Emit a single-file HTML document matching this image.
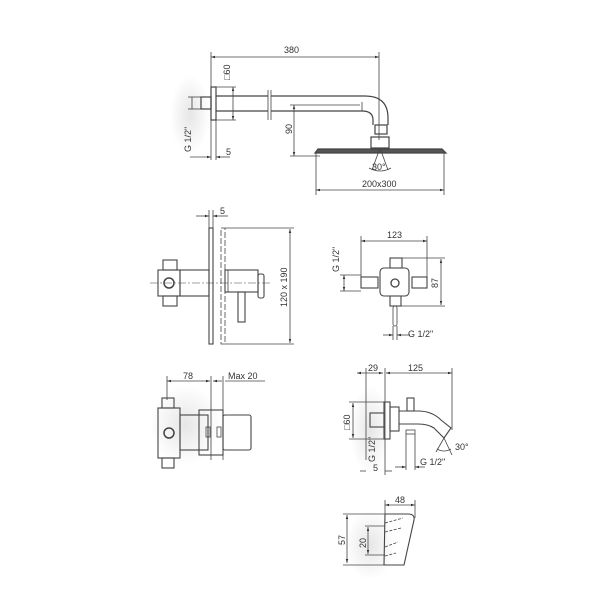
<!DOCTYPE html>
<html><head><style>
html,body{margin:0;padding:0;background:#fff;}
svg{display:block;}
text{font-family:"Liberation Sans",sans-serif;font-size:9px;fill:#333;}
</style></head><body>
<svg width="600" height="600" viewBox="0 0 600 600" xmlns="http://www.w3.org/2000/svg">
<defs>
<marker id="a" viewBox="0 0 10 10" refX="10" refY="5" markerWidth="5" markerHeight="5" orient="auto-start-reverse"><path d="M0,2 L10,5 L0,8z" fill="#333"/></marker>
<radialGradient id="sh" cx="0.5" cy="0.5" r="0.5"><stop offset="0" stop-color="#e6e6e6"/><stop offset="1" stop-color="#fff"/></radialGradient>
</defs>
<g fill="none" stroke="#444" stroke-width="0.8">
<rect x="170" y="75" width="40" height="80" fill="url(#sh)" stroke="none"/>
<rect x="150" y="385" width="70" height="80" fill="url(#sh)" stroke="none"/>
<rect x="350" y="385" width="40" height="90" fill="url(#sh)" stroke="none"/>
<rect x="345" y="510" width="50" height="70" fill="url(#sh)" stroke="none"/>

<!-- TOP -->
<line x1="211" y1="57" x2="379" y2="57" marker-start="url(#a)" marker-end="url(#a)"/>
<line x1="211" y1="52" x2="211" y2="160"/>
<line x1="379" y1="52" x2="379" y2="140"/>
<rect x="211" y="87" width="5" height="33" stroke-width="1.2"/>
<rect x="201" y="97" width="10" height="12" stroke-width="1.2"/>
<line x1="216" y1="96" x2="268" y2="96" stroke-width="1.2"/>
<line x1="216" y1="111" x2="268" y2="111" stroke-width="1.2"/>
<line x1="268" y1="90" x2="268" y2="120"/><line x1="271" y1="90" x2="271" y2="120"/>
<path d="M271,96 L365,96 Q388,96 388,118 L388,125" stroke-width="1.2"/>
<path d="M271,111 L362,111 Q373,111 373,120 L373,125" stroke-width="1.2"/>
<line x1="362" y1="102" x2="362" y2="111"/>
<rect x="375" y="125" width="12" height="9" stroke-width="1.2"/>
<rect x="371" y="137" width="18" height="11" stroke-width="1.2"/>
<path d="M315,153 L318,149 L442,149 L446,153 Z" stroke-width="1.2" fill="#555"/>
<line x1="233" y1="87" x2="233" y2="120" marker-start="url(#a)" marker-end="url(#a)"/>
<line x1="216" y1="87" x2="236" y2="87"/><line x1="216" y1="120" x2="236" y2="120"/>
<line x1="192" y1="97" x2="192" y2="109"/><line x1="188" y1="97" x2="201" y2="97"/><line x1="188" y1="109" x2="201" y2="109"/>
<line x1="190" y1="157" x2="211" y2="157" marker-end="url(#a)"/><line x1="230" y1="157" x2="216" y2="157" marker-end="url(#a)"/>
<line x1="216" y1="120" x2="216" y2="160"/>
<line x1="294" y1="105" x2="294" y2="156" marker-start="url(#a)" marker-end="url(#a)"/>
<line x1="290" y1="105" x2="360" y2="105"/><line x1="290" y1="156" x2="320" y2="156"/>
<line x1="380" y1="148" x2="372" y2="170"/><line x1="380" y1="148" x2="388" y2="170"/>
<path d="M369,168 Q380,174 391,168"/>
<line x1="316" y1="190" x2="444" y2="190" marker-start="url(#a)" marker-end="url(#a)"/>
<line x1="316" y1="153" x2="316" y2="195"/><line x1="444" y1="153" x2="444" y2="195"/>

<!-- MIDDLE LEFT -->
<rect x="209" y="228" width="4" height="116" stroke-width="1.1"/>
<rect x="221" y="228" width="4" height="116" stroke-dasharray="6 2"/>
<line x1="196" y1="216" x2="209" y2="216" marker-end="url(#a)"/><line x1="228" y1="216" x2="213" y2="216" marker-end="url(#a)"/>
<line x1="209" y1="210" x2="209" y2="228"/><line x1="213" y1="210" x2="213" y2="228"/>
<line x1="290" y1="229" x2="290" y2="343" marker-start="url(#a)" marker-end="url(#a)"/>
<line x1="225" y1="228" x2="294" y2="228"/><line x1="225" y1="344" x2="294" y2="344"/>
<rect x="163" y="260" width="14" height="10" stroke-width="1.1"/>
<rect x="163" y="296" width="14" height="10" stroke-width="1.1"/>
<rect x="158" y="270" width="22" height="26" stroke-width="1.1"/>
<circle cx="169" cy="283" r="5" stroke-width="1.5"/>
<rect x="180" y="270" width="29" height="26" stroke-width="1.1"/>
<rect x="225" y="270" width="33" height="22" stroke-width="1.1"/>
<line x1="228" y1="270" x2="228" y2="292"/>
<rect x="258" y="274" width="6" height="24" rx="2" stroke-width="1.1"/>
<rect x="238" y="292" width="7" height="30" stroke-width="1.1"/>
<line x1="150" y1="283" x2="270" y2="283" stroke-dasharray="8 2 2 2" stroke-width="0.5"/>

<!-- MIDDLE RIGHT -->
<line x1="361" y1="241" x2="427" y2="241" marker-start="url(#a)" marker-end="url(#a)"/>
<line x1="361" y1="236" x2="361" y2="278"/><line x1="427" y1="236" x2="427" y2="278"/>
<rect x="380" y="268" width="29" height="28" rx="4" stroke-width="1.1"/>
<rect x="390" y="258" width="12" height="10" stroke-width="1.1"/>
<rect x="390" y="296" width="11" height="10" stroke-width="1.1"/>
<rect x="361" y="277" width="17" height="11" stroke-width="1.1"/>
<rect x="412" y="277" width="15" height="11" stroke-width="1.1"/>
<circle cx="395" cy="283" r="4" stroke-width="1.3"/>
<rect x="393" y="306" width="4" height="20" rx="2"/>
<line x1="402" y1="258" x2="445" y2="258"/><line x1="401" y1="306" x2="445" y2="306"/>
<line x1="441" y1="259" x2="441" y2="305" marker-start="url(#a)" marker-end="url(#a)"/>
<line x1="344" y1="275" x2="344" y2="291" marker-start="url(#a)" marker-end="url(#a)"/>
<line x1="340" y1="275" x2="361" y2="275"/><line x1="340" y1="291" x2="361" y2="291"/>
<line x1="383" y1="335" x2="393" y2="335" marker-end="url(#a)"/><line x1="410" y1="335" x2="397" y2="335" marker-end="url(#a)"/>
<line x1="393" y1="326" x2="393" y2="340"/><line x1="397" y1="326" x2="397" y2="340"/>

<!-- BOTTOM LEFT -->
<line x1="167" y1="381" x2="210" y2="381" marker-start="url(#a)" marker-end="url(#a)"/>
<line x1="222" y1="381" x2="213" y2="381" marker-end="url(#a)"/>
<line x1="225" y1="381" x2="265" y2="381"/>
<line x1="167" y1="376" x2="167" y2="400"/><line x1="211" y1="376" x2="211" y2="460"/><line x1="223" y1="376" x2="223" y2="460"/>
<rect x="162" y="398" width="12" height="10" stroke-width="1.1"/>
<rect x="162" y="458" width="12" height="10" stroke-width="1.1"/>
<rect x="158" y="408" width="22" height="50" stroke-width="1.1"/>
<circle cx="169" cy="433" r="5" stroke-width="1.5"/>
<rect x="180" y="415" width="28" height="35" stroke-width="1.1"/>
<rect x="199" y="410" width="24" height="45" stroke-width="1.1"/>
<rect x="223" y="415" width="28" height="35" rx="2" stroke-width="1.1"/>
<rect x="206" y="427" width="4" height="10"/><rect x="217" y="427" width="4" height="10"/>

<!-- BOTTOM RIGHT spout -->
<line x1="357" y1="373" x2="383" y2="373" marker-start="url(#a)" marker-end="url(#a)"/>
<line x1="386" y1="373" x2="452" y2="373" marker-start="url(#a)" marker-end="url(#a)"/>
<line x1="366" y1="368" x2="366" y2="460"/><line x1="385" y1="368" x2="385" y2="475"/><line x1="452" y1="368" x2="452" y2="430"/>
<rect x="384" y="402" width="6" height="37" stroke-width="1.1"/>
<rect x="370" y="413" width="14" height="14" stroke-width="1.1"/>
<rect x="390" y="407" width="9" height="24" stroke-width="1.1"/>
<path d="M399,411 L418,411 Q432,411 441,420 L451,428 L444,438 L434,428 Q428,424 418,424 L399,424" stroke-width="1.1"/>
<rect x="407" y="398" width="7" height="13" stroke-width="1.1"/>
<rect x="406" y="430" width="9" height="4"/>
<line x1="406" y1="434" x2="406" y2="470"/><line x1="415" y1="434" x2="415" y2="470"/>
<line x1="349" y1="402" x2="384" y2="402"/><line x1="349" y1="439" x2="384" y2="439"/>
<line x1="353" y1="403" x2="353" y2="438" marker-start="url(#a)" marker-end="url(#a)"/>
<line x1="395" y1="467" x2="406" y2="467" marker-end="url(#a)"/><line x1="425" y1="467" x2="415" y2="467" marker-end="url(#a)"/>
<line x1="360" y1="471" x2="366" y2="471" /><line x1="385" y1="471" x2="392" y2="471"/>
<line x1="444" y1="438" x2="452" y2="455"/><line x1="444" y1="438" x2="436" y2="452"/>
<path d="M437,449 Q444,453 451,449"/>

<!-- BOTTOM small spout -->
<line x1="385" y1="505" x2="415" y2="505" marker-start="url(#a)" marker-end="url(#a)"/>
<line x1="385" y1="500" x2="385" y2="515"/><line x1="415" y1="500" x2="415" y2="518"/>
<path d="M385,514 L408,514 Q415,514 414,520 L404,565 L384,565 Z" stroke-width="1.1"/>
<path d="M385,523 L403,518 M385,532 L401,528 M385,547 L398,542 M385,556 L396,553" stroke-dasharray="3 1.5"/>
<line x1="347" y1="515" x2="347" y2="563" marker-start="url(#a)" marker-end="url(#a)"/>
<line x1="343" y1="514" x2="385" y2="514"/><line x1="343" y1="565" x2="385" y2="565"/>
<line x1="368" y1="527" x2="368" y2="554" marker-start="url(#a)" marker-end="url(#a)"/>
<line x1="365" y1="526" x2="385" y2="526"/><line x1="365" y1="555" x2="385" y2="555"/>
</g>
<g>
<text x="284" y="53">380</text>
<text transform="translate(230,80) rotate(-90)">□60</text>
<text transform="translate(191,152) rotate(-90)">G 1/2"</text>
<text x="226" y="155">5</text>
<text transform="translate(292,134) rotate(-90)">90</text>
<text x="372" y="170">30°</text>
<text x="362" y="187">200x300</text>
<text x="220" y="214">5</text>
<text transform="translate(287,307) rotate(-90)">120 x 190</text>
<text x="387" y="238">123</text>
<text transform="translate(339,272) rotate(-90)">G 1/2"</text>
<text transform="translate(438,288) rotate(-90)">87</text>
<text x="408" y="337">G 1/2"</text>
<text x="183" y="379">78</text>
<text x="228" y="379">Max 20</text>
<text x="368" y="371">29</text>
<text x="408" y="371">125</text>
<text transform="translate(350,430) rotate(-90)">□60</text>
<text transform="translate(375,462) rotate(-90)">G 1/2"</text>
<text x="373" y="471">5</text>
<text x="420" y="465">G 1/2"</text>
<text x="455" y="450">30°</text>
<text x="395" y="503">48</text>
<text transform="translate(345,545) rotate(-90)">57</text>
<text transform="translate(366,548) rotate(-90)">20</text>
</g>
</svg>
</body></html>
